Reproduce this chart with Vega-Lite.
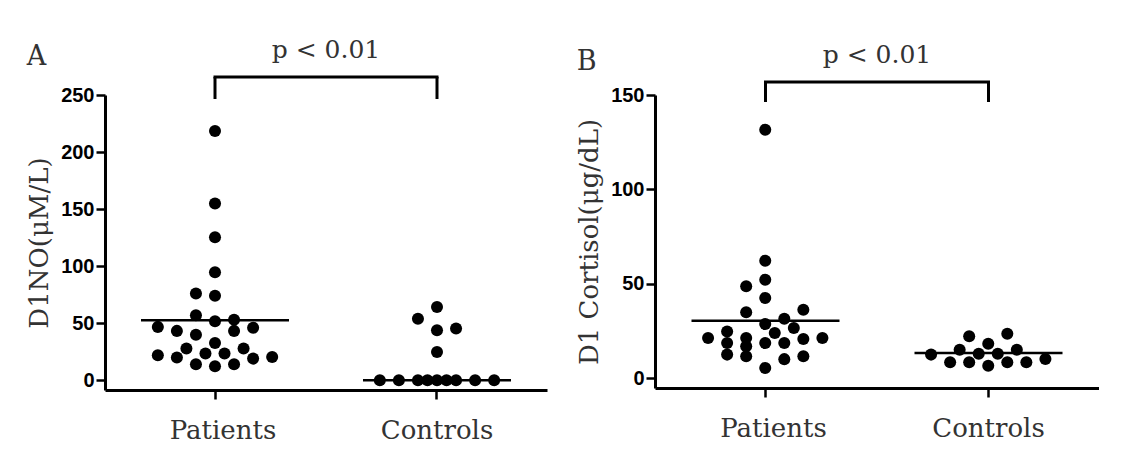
{
  "$schema": "https://vega.github.io/schema/vega-lite/v6.json",
  "background": "white",
  "padding": {"left": 26, "top": 37, "right": 0, "bottom": 0},
  "datasets": {
    "no": [
      {"group": "Patients", "value": 218.4, "slot": 0},
      {"group": "Patients", "value": 155, "slot": 0},
      {"group": "Patients", "value": 125.4, "slot": 0},
      {"group": "Patients", "value": 94.7, "slot": 0},
      {"group": "Patients", "value": 76, "slot": -2},
      {"group": "Patients", "value": 74, "slot": 0},
      {"group": "Patients", "value": 57, "slot": -2},
      {"group": "Patients", "value": 51.8, "slot": 0},
      {"group": "Patients", "value": 53, "slot": 2},
      {"group": "Patients", "value": 46.8, "slot": -6},
      {"group": "Patients", "value": 43.3, "slot": -4},
      {"group": "Patients", "value": 40, "slot": -2},
      {"group": "Patients", "value": 43.3, "slot": 2},
      {"group": "Patients", "value": 46, "slot": 4},
      {"group": "Patients", "value": 27.8, "slot": -3},
      {"group": "Patients", "value": 32.7, "slot": 0},
      {"group": "Patients", "value": 27.8, "slot": 3},
      {"group": "Patients", "value": 22, "slot": -6},
      {"group": "Patients", "value": 20, "slot": -4},
      {"group": "Patients", "value": 23.4, "slot": -1},
      {"group": "Patients", "value": 23.4, "slot": 1},
      {"group": "Patients", "value": 19, "slot": 4},
      {"group": "Patients", "value": 20.5, "slot": 6},
      {"group": "Patients", "value": 14, "slot": -2},
      {"group": "Patients", "value": 12.3, "slot": 0},
      {"group": "Patients", "value": 14, "slot": 2},
      {"group": "Controls", "value": 64.3, "slot": 0},
      {"group": "Controls", "value": 54, "slot": -2},
      {"group": "Controls", "value": 43.9, "slot": 0},
      {"group": "Controls", "value": 45.3, "slot": 2},
      {"group": "Controls", "value": 24.8, "slot": 0},
      {"group": "Controls", "value": 0, "slot": -6},
      {"group": "Controls", "value": 0, "slot": -4},
      {"group": "Controls", "value": 0, "slot": -2},
      {"group": "Controls", "value": 0, "slot": -1},
      {"group": "Controls", "value": 0, "slot": 0},
      {"group": "Controls", "value": 0, "slot": 1},
      {"group": "Controls", "value": 0, "slot": 2},
      {"group": "Controls", "value": 0, "slot": 4},
      {"group": "Controls", "value": 0, "slot": 6}
    ],
    "cortisol": [
      {"group": "Patients", "value": 131.6, "slot": 0},
      {"group": "Patients", "value": 62.2, "slot": 0},
      {"group": "Patients", "value": 52.1, "slot": 0},
      {"group": "Patients", "value": 48.6, "slot": -2},
      {"group": "Patients", "value": 42.4, "slot": 0},
      {"group": "Patients", "value": 34.8, "slot": -2},
      {"group": "Patients", "value": 36.2, "slot": 4},
      {"group": "Patients", "value": 31.4, "slot": 2},
      {"group": "Patients", "value": 28.6, "slot": 0},
      {"group": "Patients", "value": 26.5, "slot": 3},
      {"group": "Patients", "value": 23.8, "slot": 1},
      {"group": "Patients", "value": 21.2, "slot": -6},
      {"group": "Patients", "value": 24.7, "slot": -4},
      {"group": "Patients", "value": 18.5, "slot": -4},
      {"group": "Patients", "value": 12.4, "slot": -4},
      {"group": "Patients", "value": 21.2, "slot": -2},
      {"group": "Patients", "value": 16.8, "slot": -2},
      {"group": "Patients", "value": 11.5, "slot": -2},
      {"group": "Patients", "value": 18.5, "slot": 0},
      {"group": "Patients", "value": 18.5, "slot": 2},
      {"group": "Patients", "value": 20.7, "slot": 4},
      {"group": "Patients", "value": 21.2, "slot": 6},
      {"group": "Patients", "value": 10, "slot": 2},
      {"group": "Patients", "value": 11.5, "slot": 4},
      {"group": "Patients", "value": 5.3, "slot": 0},
      {"group": "Controls", "value": 12.4, "slot": -6},
      {"group": "Controls", "value": 8.3, "slot": -4},
      {"group": "Controls", "value": 15, "slot": -3},
      {"group": "Controls", "value": 22.1, "slot": -2},
      {"group": "Controls", "value": 8.3, "slot": -2},
      {"group": "Controls", "value": 12.9, "slot": -1},
      {"group": "Controls", "value": 18.2, "slot": 0},
      {"group": "Controls", "value": 6.5, "slot": 0},
      {"group": "Controls", "value": 12.9, "slot": 1},
      {"group": "Controls", "value": 23.5, "slot": 2},
      {"group": "Controls", "value": 8.3, "slot": 2},
      {"group": "Controls", "value": 15, "slot": 3},
      {"group": "Controls", "value": 8.3, "slot": 4},
      {"group": "Controls", "value": 10.1, "slot": 6}
    ],
    "noLines": [
      {"group": "Patients", "value": 52.6},
      {"group": "Controls", "value": 0}
    ],
    "cortisolLines": [
      {"group": "Patients", "value": 30.4},
      {"group": "Controls", "value": 13.2}
    ],
    "legs": [
      {"group": "Patients"},
      {"group": "Controls"}
    ]
  },
  "hconcat": [
    {
      "title": {"text": "A", "font": "DejaVu Serif", "fontSize": 27, "fontWeight": "normal", "color": "#333", "anchor": "start", "frame": "bounds", "offset": -33},
      "vconcat": [
        {
          "title": {"text": "p < 0.01", "font": "DejaVu Serif", "fontSize": 25, "fontWeight": "normal", "color": "#333", "anchor": "middle", "frame": "group", "offset": 12},
          "width": 442,
          "height": 295,
          "layer": [
            {
              "data": {"name": "no"},
              "mark": {"type": "circle", "size": 145, "opacity": 1, "color": "black"},
              "encoding": {
                "x": {"field": "group", "type": "nominal",
                  "scale": {"domain": ["Patients", "Controls"], "paddingInner": 0.485, "paddingOuter": 0.238},
                  "axis": {"title": null, "labelAngle": 0, "labelFont": "DejaVu Serif", "labelFontSize": 26, "labelColor": "#333", "labelPadding": 18, "labelOffset": {"condition": {"test": "datum.value === 'Patients'", "value": 8}, "value": 0}, "tickSize": 9, "tickWidth": 2.5, "tickColor": "black", "domainColor": "black", "domainWidth": 3}},
                "xOffset": {"field": "slot", "type": "ordinal", "scale": {"domain": [-6,-5,-4,-3,-2,-1,0,1,2,3,4,5,6], "paddingInner": 0, "paddingOuter": 0}},
                "y": {"field": "value", "type": "quantitative",
                  "scale": {"domain": [-8.5, 250], "nice": false, "zero": false},
                  "axis": {"title": "D1NO(μM/L)", "titleFont": "DejaVu Serif", "titleFontSize": 26, "titleFontWeight": "normal", "titleColor": "#333", "titlePadding": 8, "values": [0, 50, 100, 150, 200, 250], "labelFont": "Liberation Sans", "labelFontWeight": "bold", "labelFontSize": 20, "labelColor": "black", "labelPadding": 2, "labelFlush": false, "tickSize": 9, "tickWidth": 2.5, "tickColor": "black", "domainColor": "black", "domainWidth": 3, "grid": false}}
              }
            },
            {
              "data": {"name": "noLines"},
              "mark": {"type": "tick", "size": 148, "thickness": 2.5, "color": "black", "opacity": 1},
              "encoding": {
                "x": {"field": "group", "type": "nominal"},
                "y": {"field": "value", "type": "quantitative"}
              }
            },
            {
              "data": {"values": [{}]},
              "mark": {"type": "rule", "strokeWidth": 3, "color": "black", "strokeCap": "square"},
              "encoding": {
                "x": {"datum": "Patients"},
                "x2": {"datum": "Controls"},
                "y": {"datum": 265.8}
              }
            },
            {
              "data": {"name": "legs"},
              "mark": {"type": "rule", "strokeWidth": 3, "color": "black"},
              "encoding": {
                "x": {"field": "group", "type": "nominal"},
                "y": {"datum": 246.5},
                "y2": {"datum": 265.8}
              }
            }
          ]
        }
      ]
    },
    {
      "title": {"text": "B", "font": "DejaVu Serif", "fontSize": 27, "fontWeight": "normal", "color": "#333", "anchor": "start", "frame": "bounds", "offset": -33},
      "vconcat": [
        {
          "title": {"text": "p < 0.01", "font": "DejaVu Serif", "fontSize": 25, "fontWeight": "normal", "color": "#333", "anchor": "middle", "frame": "group", "offset": 12},
          "width": 444,
          "height": 293,
          "layer": [
            {
              "data": {"name": "cortisol"},
              "mark": {"type": "circle", "size": 145, "opacity": 1, "color": "black"},
              "encoding": {
                "x": {"field": "group", "type": "nominal",
                  "scale": {"domain": ["Patients", "Controls"], "paddingInner": 0.485, "paddingOuter": 0.238},
                  "axis": {"title": null, "labelAngle": 0, "labelFont": "DejaVu Serif", "labelFontSize": 26, "labelColor": "#333", "labelPadding": 18, "labelOffset": {"condition": {"test": "datum.value === 'Patients'", "value": 8}, "value": 0}, "tickSize": 9, "tickWidth": 2.5, "tickColor": "black", "domainColor": "black", "domainWidth": 3}},
                "xOffset": {"field": "slot", "type": "ordinal", "scale": {"domain": [-6,-5,-4,-3,-2,-1,0,1,2,3,4,5,6], "paddingInner": 0, "paddingOuter": 0}},
                "y": {"field": "value", "type": "quantitative",
                  "scale": {"domain": [-5.3, 150], "nice": false, "zero": false},
                  "axis": {"title": "D1 Cortisol(μg/dL)", "titleFont": "DejaVu Serif", "titleFontSize": 26, "titleFontWeight": "normal", "titleColor": "#333", "titlePadding": 8, "values": [0, 50, 100, 150], "labelFont": "Liberation Sans", "labelFontWeight": "bold", "labelFontSize": 20, "labelColor": "black", "labelPadding": 2, "labelFlush": false, "tickSize": 9, "tickWidth": 2.5, "tickColor": "black", "domainColor": "black", "domainWidth": 3, "grid": false}}
              }
            },
            {
              "data": {"name": "cortisolLines"},
              "mark": {"type": "tick", "size": 148, "thickness": 2.5, "color": "black", "opacity": 1},
              "encoding": {
                "x": {"field": "group", "type": "nominal"},
                "y": {"field": "value", "type": "quantitative"}
              }
            },
            {
              "data": {"values": [{}]},
              "mark": {"type": "rule", "strokeWidth": 3, "color": "black", "strokeCap": "square"},
              "encoding": {
                "x": {"datum": "Patients"},
                "x2": {"datum": "Controls"},
                "y": {"datum": 156.9}
              }
            },
            {
              "data": {"name": "legs"},
              "mark": {"type": "rule", "strokeWidth": 3, "color": "black"},
              "encoding": {
                "x": {"field": "group", "type": "nominal"},
                "y": {"datum": 146.3},
                "y2": {"datum": 156.9}
              }
            }
          ]
        }
      ]
    }
  ],
  "spacing": 29,
  "config": {
    "view": {"stroke": null}
  }
}
